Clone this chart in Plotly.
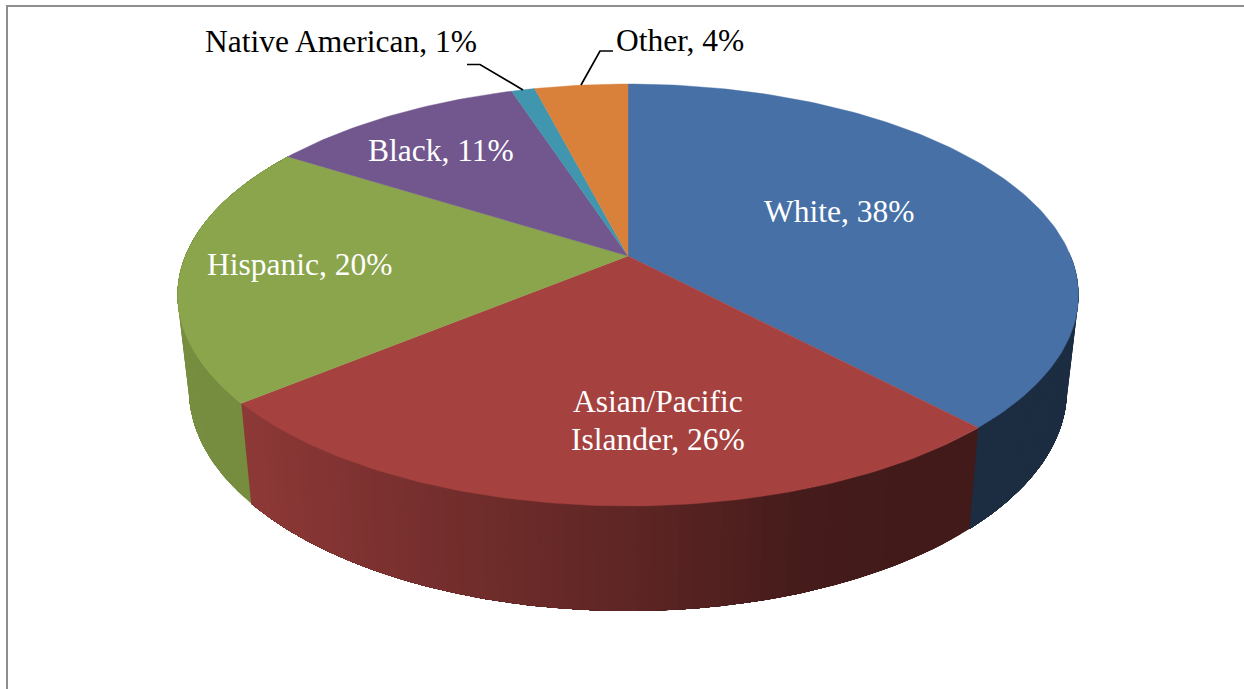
import numpy as np
import plotly.graph_objects as go

# ---- data -------------------------------------------------------------
categories = ["White", "Asian/Pacific<br>Islander", "Hispanic", "Black", "Native American", "Other"]
values = [38, 26, 20, 11, 1, 4]

# ---- styles -----------------------------------------------------------
slice_colors = ["#4670A6", "#A54240", "#8AA54B", "#71578D", "#4096AE", "#D9803A"]
label_colors = ["white", "white", "white", "white", "black", "black"]
label_centers = [(839, 211.5), (658, 420.5), (299, 264.5), (441, 150.5), (340.5, 41), (680, 40.5)]
FONT = "Liberation Serif"
FONT_SIZE = 31.5
LINE_STEP = 38

W, H = 1244, 689
TOP = dict(cx=628, cy=295, a=450.5, b=211)
BASE = dict(cx=628, cy=390, a=439, b=221)
K = 39 / 211  # perspective shift of the pie's apex
shade_x = [180, 250, 400, 628, 800, 900, 1080]
shade_v = [0.86, 0.85, 0.73, 0.57, 0.42, 0.40, 0.40]
leaders = [([467, 480, 523], [64.5, 64.5, 90]), ([613, 600, 581], [51, 51, 85])]


def project(theta_deg):
    """Clockwise-from-top angle to normalised perspective disc coordinates."""
    t = np.radians(theta_deg)
    x, y = np.sin(t), -np.cos(t)
    d = 1 - K * y
    return x * np.sqrt(1 - K * K) / d, (y - K) / d


def on_ellipse(u, v, e):
    return e["cx"] + e["a"] * u, e["cy"] + e["b"] * v


def darken(hex_color, f):
    r, g, b = [int(hex_color[i:i + 2], 16) for i in (1, 3, 5)]
    return f"rgb({r * f:.0f},{g * f:.0f},{b * f:.0f})"


def poly(xs, ys, color, width=0.0):
    return go.Scatter(x=xs, y=ys, mode="lines", fill="toself", fillcolor=color,
                      line=dict(color=color, width=width), hoverinfo="skip", showlegend=False)


fig = go.Figure()
edges = np.concatenate([[0], np.cumsum(values)]) * 3.6

# side wall: strips painted in order, each running on to the end of its slice,
# so the next strip's edge blends into a nearly equal colour and leaves no seam
for i, color in enumerate(slice_colors):
    a0, a1 = edges[i], edges[i + 1]
    n = max(2, int((a1 - a0) / 1.5))
    th = np.linspace(a0, a1, n + 1)
    for j in range(n):
        u, v = project(th[j:])
        if v[:2].max() < -0.2:
            continue
        tx, ty = on_ellipse(u, v, TOP)
        bx, by = on_ellipse(u, v, BASE)
        f = float(np.interp(tx[:2].mean(), shade_x, shade_v))
        fig.add_trace(poly(np.r_[tx, bx[::-1], tx[0]], np.r_[ty, by[::-1], ty[0]], darken(color, f)))

# top faces
ax = TOP["cx"]
ay = TOP["cy"] - K * TOP["b"]
for i, color in enumerate(slice_colors):
    th = np.linspace(edges[i], edges[i + 1], max(3, int(values[i] * 3.6)))
    u, v = project(th)
    px, py = on_ellipse(u, v, TOP)
    fig.add_trace(poly(np.r_[ax, px, ax], np.r_[ay, py, ay], color, width=0.4))

# leader lines
for lx, ly in leaders:
    fig.add_trace(go.Scatter(x=lx, y=ly, mode="lines", line=dict(color="black", width=1.7),
                             hoverinfo="skip", showlegend=False))

# chart frame
fig.add_trace(go.Scatter(x=[7, 7, W], y=[H, 6, 6], mode="lines",
                         line=dict(color="#8e8e8e", width=2), hoverinfo="skip", showlegend=False))

# labels
for cat, val, col, (cx, cy) in zip(categories, values, label_colors, label_centers):
    lines = f"{cat}, {val}%".split("<br>")
    for k, line in enumerate(lines):
        fig.add_annotation(x=cx, y=cy + (k - (len(lines) - 1) / 2) * LINE_STEP, text=line,
                           showarrow=False, xanchor="center", yanchor="middle",
                           font=dict(family=FONT, size=FONT_SIZE, color=col))

fig.update_layout(width=W, height=H, margin=dict(l=0, r=0, t=0, b=0),
                  paper_bgcolor="white", plot_bgcolor="white", showlegend=False,
                  xaxis=dict(range=[0, W], visible=False, fixedrange=True),
                  yaxis=dict(range=[H, 0], visible=False, fixedrange=True))
fig.write_html("out.html", config={"displayModeBar": False},
               post_script="document.body.style.margin='0';document.body.style.overflow='hidden';")
